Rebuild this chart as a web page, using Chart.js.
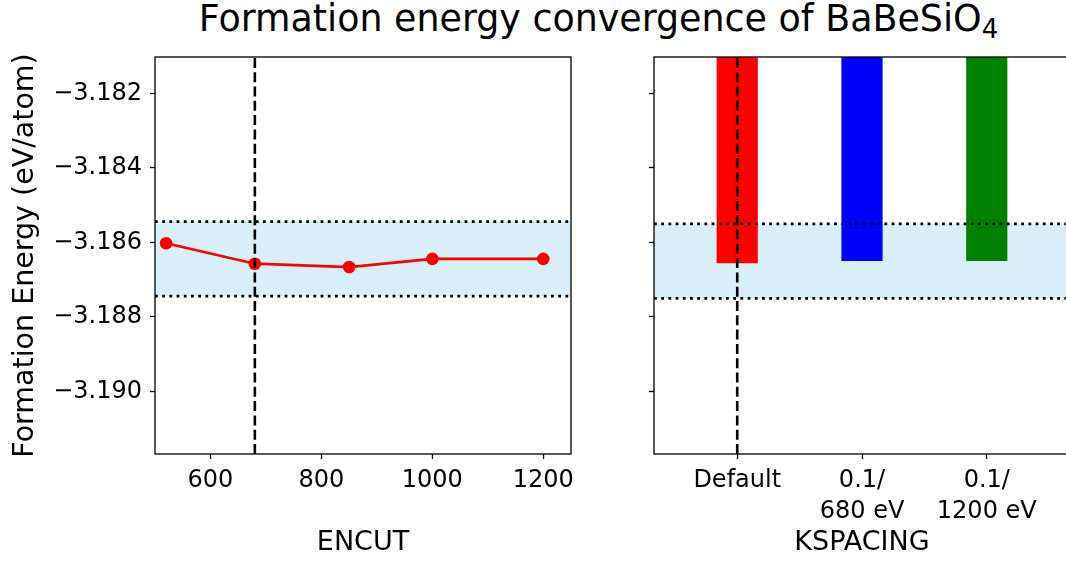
<!DOCTYPE html>
<html>
<head>
<meta charset="utf-8">
<script src="https://cdn.jsdelivr.net/npm/chart.js@4.4.0/dist/chart.umd.min.js"></script>
<style>
  html, body { margin: 0; padding: 0; background: #fff; overflow: hidden; }
  body { width: 1066px; height: 562px; position: relative; }
  #title {
    position: absolute; left: 0; top: 1px; width: 1197px;
    text-align: center; font-family: 'DejaVu Sans'; font-size: 36.4px; line-height: 36px; color: #000;
  }
  #title sub { font-size: 26px; vertical-align: -7px; line-height: 0; }
  #encutChart { position: absolute; left: 0; top: 0; }
  #kspacingChart { position: absolute; left: 600px; top: 0; }
</style>
</head>
<body>
<div id="title">Formation energy convergence of BaBeSiO<sub>4</sub></div>
<canvas id="encutChart" width="600" height="562"></canvas>
<canvas id="kspacingChart" width="490" height="562"></canvas>
<script>
// ENCUT scan (eV) and resulting formation energies (eV/atom)
const encutValues = [520, 680, 850, 1000, 1200];
const encutEnergy = [-3.18602, -3.18657, -3.18666, -3.18644, -3.18644];
const encutChosen = 680;
const encutBand = [-3.18544, -3.18744];
const encutRange = [500, 1250];
const encutTicks = [600, 800, 1000, 1200];

// KSPACING settings
const kspacingLabels = ['Default', ['0.1/', '680 eV'], ['0.1/', '1200 eV']];
const kspacingEnergy = [-3.18656, -3.18650, -3.18650];
const kspacingColors = ['#ff0000', '#0000ff', '#008000'];
const kspacingChosen = 0;
const kspacingBand = [-3.1855, -3.1875];
const kspacingRange = [-0.667, 2.667];

// shared energy axis
const energyRange = [-3.19168, -3.18102];
const energyTicks = [-3.182, -3.184, -3.186, -3.188, -3.190];

const bandFill = 'rgba(135, 206, 235, 0.32)';

Chart.defaults.font.family = 'DejaVu Sans';
Chart.defaults.color = '#000';

// box around the plotting area
const framePlugin = {
    id: 'frame',
    afterDraw(chart) {
        const {ctx, chartArea: a} = chart;
        ctx.save();
        ctx.strokeStyle = '#000';
        ctx.lineWidth = 1.3;
        ctx.strokeRect(a.left, a.top, a.right - a.left, a.bottom - a.top);
        ctx.restore();
    }
};

function fixedTicks(values) {
    return scale => { scale.ticks = values.map(v => ({value: v})); };
}

function hLine(range, y, opts) {
    return Object.assign({
        type: 'line',
        data: [{x: range[0], y: y}, {x: range[1], y: y}],
        pointRadius: 0,
        borderColor: '#000',
        borderWidth: 2.8,
        borderDash: [2.8, 4.4],
        fill: false
    }, opts || {});
}

function bandDatasets(range, band) {
    return [
        hLine(range, band[0]),
        hLine(range, band[1]),
        hLine(range, band[0], {borderWidth: 0, borderDash: [], fill: '+1', backgroundColor: bandFill}),
        hLine(range, band[1], {borderWidth: 0, borderDash: []})
    ];
}

function vLine(x) {
    return {
        type: 'line',
        data: [{x: x, y: energyRange[0]}, {x: x, y: energyRange[1]}],
        pointRadius: 0,
        borderColor: '#000',
        borderWidth: 2.6,
        borderDash: [10, 4.3],
        fill: false
    };
}

function yScale(showLabels, width) {
    return {
        type: 'linear',
        min: energyRange[0],
        max: energyRange[1],
        afterBuildTicks: fixedTicks(energyTicks),
        afterFit: s => { s.width = width; },
        border: {display: false},
        grid: {drawOnChartArea: false, drawTicks: true, tickLength: 5, tickWidth: 1.3, tickColor: '#000'},
        ticks: {
            display: showLabels,
            padding: 8,
            font: {size: 24},
            callback: v => '\u2212' + Math.abs(v).toFixed(3)
        },
        title: {
            display: showLabels,
            text: 'Formation Energy (eV/atom)',
            font: {size: 28.5},
            padding: {top: 8.5, bottom: 0}
        }
    };
}

function xScale(range, ticks, label, fmt) {
    return {
        type: 'linear',
        min: range[0],
        max: range[1],
        offset: false,
        afterBuildTicks: fixedTicks(ticks),
        afterFit: s => { s.height = 108; },
        border: {display: false},
        grid: {offset: false, drawOnChartArea: false, drawTicks: true, tickLength: 5, tickWidth: 1.3, tickColor: '#000'},
        ticks: {autoSkip: false, maxRotation: 0, padding: 7, font: {size: 24, lineHeight: 1.27}, callback: fmt},
        title: {display: true, text: label, font: {size: 27}, padding: {top: 0, bottom: 3}}
    };
}

const commonOptions = {
    responsive: false,
    animation: false,
    events: [],
    plugins: {legend: {display: false}, tooltip: {enabled: false}}
};

// ENCUT panel
new Chart(document.getElementById('encutChart'), {
    type: 'line',
    data: {
        datasets: [
            vLine(encutChosen),
            {
                type: 'line',
                data: encutValues.map((x, i) => ({x: x, y: encutEnergy[i]})),
                borderColor: '#ff0000',
                backgroundColor: '#ff0000',
                borderWidth: 2.7,
                pointRadius: 6.3,
                pointBorderWidth: 0,
                fill: false
            },
            ...bandDatasets(encutRange, encutBand)
        ]
    },
    options: Object.assign({}, commonOptions, {
        layout: {padding: {left: 0, right: 29, top: 57, bottom: 0}},
        scales: {
            x: xScale(encutRange, encutTicks, 'ENCUT', v => String(v)),
            y: yScale(true, 155)
        }
    }),
    plugins: [framePlugin]
});

// KSPACING panel
const kspacingBandSets = bandDatasets(kspacingRange, kspacingBand);
new Chart(document.getElementById('kspacingChart'), {
    type: 'line',
    data: {
        datasets: [
            vLine(kspacingChosen),
            kspacingBandSets[0],
            kspacingBandSets[1],
            {
                type: 'bar',
                data: kspacingEnergy.map((y, i) => ({x: i, y: y})),
                backgroundColor: kspacingColors,
                borderWidth: 0,
                barPercentage: 0.33,
                categoryPercentage: 1
            },
            kspacingBandSets[2],
            kspacingBandSets[3]
        ]
    },
    options: Object.assign({}, commonOptions, {
        layout: {padding: {left: 0, right: 20, top: 57, bottom: 0}},
        scales: {
            x: xScale(kspacingRange, [0, 1, 2], 'KSPACING', v => kspacingLabels[v]),
            y: yScale(false, 54)
        }
    }),
    plugins: [framePlugin]
});
</script>
</body>
</html>
